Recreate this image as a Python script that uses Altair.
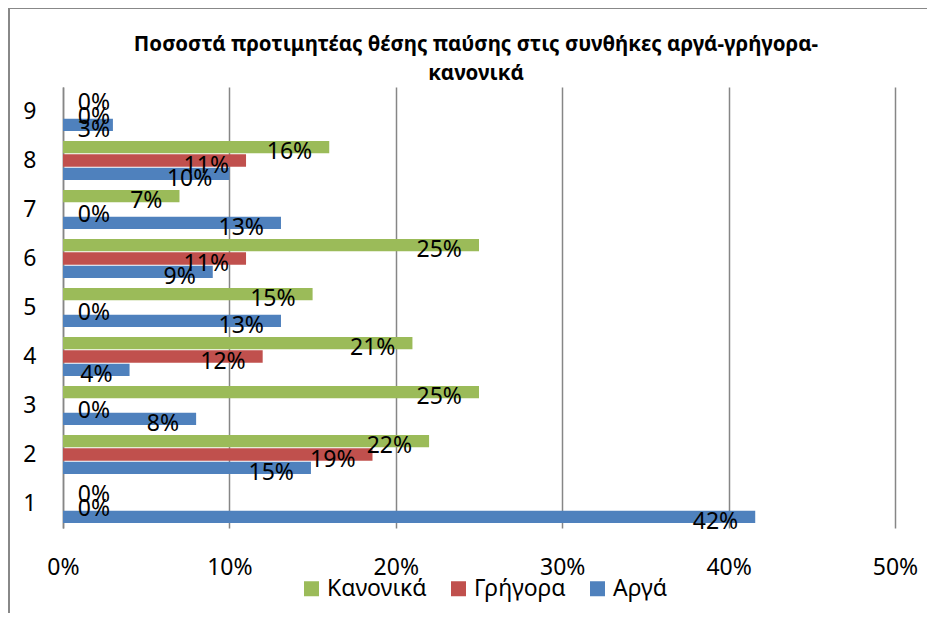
import altair as alt
import pandas as pd

categories = ["1", "2", "3", "4", "5", "6", "7", "8", "9"]
series = ["Κανονικά", "Γρήγορα", "Αργά"]
colors = ["#9BBB59", "#C0504D", "#4F81BD"]
arga = [41.6, 14.9, 8.0, 4.0, 13.1, 9.0, 13.1, 10.0, 3.0]
grigora = [0, 18.6, 0, 12.0, 0, 11.0, 0, 11.0, 0]
kanonika = [0, 22.0, 25.0, 21.0, 15.0, 25.0, 7.0, 16.0, 0]
x_ticks = [0, 10, 20, 30, 40, 50]
title_text = "Ποσοστά προτιμητέας θέσης παύσης στις συνθήκες αργά-γρήγορα-\nκανονικά"

rows = []
for name, vals in zip(series, [kanonika, grigora, arga]):
    for c, v in zip(categories, vals):
        rows.append({"cat": c, "series": name, "value": v})
df = pd.DataFrame(rows)

FONT = "Noto Sans"
FS = 23

y = alt.Y("cat:N", sort=list(reversed(categories)),
          scale=alt.Scale(paddingInner=0.2, paddingOuter=0.1),
          axis=alt.Axis(title=None, labelAngle=0, ticks=False, domainColor="#868686",
                        domainWidth=1.5, labelPadding=27, labelFontSize=FS,
                        labelColor="black", grid=False, labelFont=FONT))
yoff = alt.YOffset("series:N", sort=series, scale=alt.Scale(paddingInner=0.08))
x = alt.X("value:Q", scale=alt.Scale(domain=[0, 50]),
          axis=alt.Axis(values=x_ticks, labelExpr="datum.value + '%'", title=None,
                        domain=False, ticks=False, gridColor="#868686", gridWidth=1.5,
                        labelPadding=28, labelFontSize=FS, labelColor="black",
                        labelFont=FONT, labelFlush=False, labelOverlap=False))
color = alt.Color("series:N",
                  scale=alt.Scale(domain=series, range=colors),
                  legend=alt.Legend(orient="none", legendX=237, legendY=490,
                                    direction="horizontal", title=None,
                                    symbolType="square", symbolSize=225,
                                    labelFontSize=FS, labelFont=FONT, labelColor="black",
                                    labelOffset=4, columnPadding=20,
                                    symbolStrokeWidth=0))

bars = alt.Chart(df).mark_bar().encode(x=x, y=y, yOffset=yoff, color=color)

labels = alt.Chart(df).transform_calculate(
    lx="max(datum.value, 3.85)",
    label="format(datum.value, '.0f') + '%'"
).mark_text(align="right", baseline="middle", dx=-17, dy=5, fontSize=FS,
            font=FONT, color="black").encode(
    x=alt.X("lx:Q"), y=y, yOffset=yoff, text="label:N")

frame_df = pd.DataFrame({"a": [0]})
left_border = alt.Chart(frame_df).mark_rule(color="#888888", strokeWidth=2).encode(
    x=alt.value(-54), y=alt.value(-79), y2=alt.value(530))
top_border = alt.Chart(frame_df).mark_rule(color="#888888", strokeWidth=2).encode(
    x=alt.value(-54), x2=alt.value(870), y=alt.value(-79))

title_df = pd.DataFrame({"t": [title_text]})
title = alt.Chart(title_df).mark_text(
    align="center", baseline="middle", fontSize=20.5, fontWeight="bold", font=FONT,
    color="black", lineBreak="\n", lineHeight=29).encode(
    x=alt.value(413), y=alt.value(-42), text="t:N")

chart = alt.layer(bars, labels, left_border, top_border, title).properties(
    width=832, height=441,
    padding={"left": 55, "top": 79, "right": 32, "bottom": 85},
    autosize=alt.AutoSizeParams(type="none"),
).configure_view(stroke=None)

chart.save("out.html", embed_options={"renderer": "svg", "actions": False})
